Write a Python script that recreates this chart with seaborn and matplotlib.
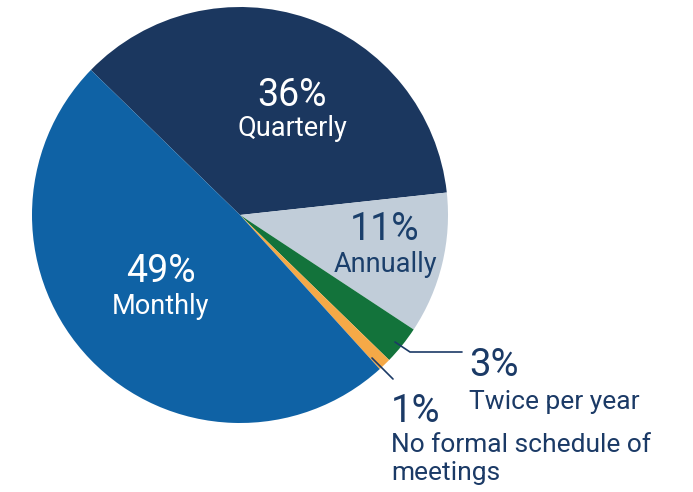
import matplotlib
matplotlib.use("Agg")
import matplotlib.pyplot as plt
import seaborn as sns

sns.set_theme(style="white")
plt.rcParams["font.family"] = ["Roboto", "DejaVu Sans"]

categories = ["Quarterly", "Annually", "Twice per year",
              "No formal schedule of\nmeetings", "Monthly"]
shares = [36, 11, 3, 1, 49]
colors = sns.color_palette(["#1b375f", "#c1cdd9", "#13733b", "#f5a947", "#0f62a5"])

W, H = 693, 492
fig = plt.figure(figsize=(W / 100, H / 100), dpi=100)
ax = fig.add_axes([0, 0, 1, 1])

cx, cy, r = 240, H - 215, 208
ax.pie(shares, colors=colors, startangle=135.8, counterclock=False,
       center=(cx, cy), radius=r, wedgeprops=dict(linewidth=0),
       frame=True)
ax.set_xlim(0, W)
ax.set_ylim(0, H)
ax.set_aspect("equal")
ax.axis("off")

navy = "#1b3a66"


def y(py):
    return H - py


# labels inside the larger slices
inner = [
    (0, 292, 95, 129, "white"),
    (1, 385, 229, 265, "#1b3f6b"),
    (4, 161, 272, 307, "white"),
]
for i, x, yp, yl, c in inner:
    ax.text(x, y(yp), f"{shares[i]}%", ha="center", va="center",
            fontsize=27, color=c)
    ax.text(x, y(yl), categories[i], ha="center", va="center",
            fontsize=19.5, color=c)

# labels outside for the small slices, with leader lines
ax.plot([395, 410, 462], [y(342), y(352), y(352)], color=navy, lw=1.2)
ax.plot([372, 393], [y(358), y(379)], color=navy, lw=1.2)

ax.text(469, y(366), f"{shares[2]}%", ha="left", va="center",
        fontsize=27.5, color=navy)
ax.text(469, y(402), categories[2], ha="left", va="center",
        fontsize=19, color=navy)
ax.text(391, y(411), f"{shares[3]}%", ha="left", va="center",
        fontsize=27.5, color=navy)
ax.text(391, y(459), categories[3], ha="left", va="center",
        fontsize=19, color=navy, linespacing=1.25)

fig.savefig("out.png", dpi=100, facecolor="white")
